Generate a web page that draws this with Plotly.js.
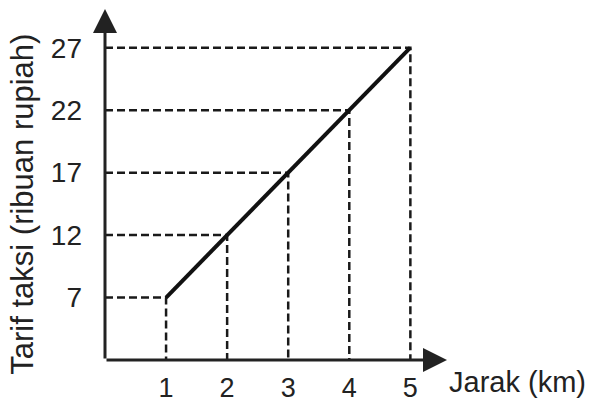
<!DOCTYPE html>
<html>
<head>
<meta charset="utf-8">
<script src="https://cdn.plot.ly/plotly-3.0.1.min.js"></script>
<style>
  html, body { margin: 0; padding: 0; background: #fff; }
  #myViz { width: 595px; height: 404px; }
</style>
</head>
<body>
<div id="myViz"></div>
<script>
// distance (km) vs taxi fare (thousand rupiah)
var jarak = [1, 2, 3, 4, 5];
var tarif = [7, 12, 17, 22, 27];
var xTicks = [1, 2, 3, 4, 5];
var yTicks = [7, 12, 17, 22, 27];

var yMin = 2;
var xEnd = 5.6;
var yEnd = 30.1;

// dashed guides: from y axis to the point, then down to the x axis
var gx = [], gy = [];
for (var i = 0; i < jarak.length; i++) {
    gx.push(0, jarak[i], jarak[i], null);
    gy.push(tarif[i], tarif[i], yMin, null);
}

var guides = {
    x: gx,
    y: gy,
    type: 'scatter',
    mode: 'lines',
    hoverinfo: 'skip',
    line: { color: '#1a1a1a', width: 2.5, dash: '8px,4px' }
};

var fare = {
    x: jarak,
    y: tarif,
    type: 'scatter',
    mode: 'lines',
    line: { color: '#111', width: 4 }
};

var data = [guides, fare];

var font = 'Liberation Sans, Arial, sans-serif';

var layout = {
    width: 595,
    height: 404,
    margin: { l: 105, r: 148, t: 9, b: 44 },
    paper_bgcolor: '#fff',
    plot_bgcolor: '#fff',
    showlegend: false,
    font: { family: font, color: '#222', size: 28 },
    xaxis: {
        range: [0, xEnd],
        tickvals: xTicks,
        ticktext: xTicks.map(String),
        showgrid: false,
        zeroline: false,
        showline: false,
        ticks: '',
        ticklabelstandoff: 9,
        tickfont: { size: 27 }
    },
    yaxis: {
        range: [yMin, yEnd],
        tickvals: yTicks,
        ticktext: yTicks.map(String),
        showgrid: false,
        zeroline: false,
        showline: false,
        ticks: '',
        ticklabelstandoff: 22,
        tickfont: { size: 28 }
    },
    annotations: [
        // x axis with arrow
        {
            x: xEnd, y: yMin, ax: 0, ay: yMin,
            xref: 'x', yref: 'y', axref: 'x', ayref: 'y',
            text: '', showarrow: true,
            arrowhead: 2, arrowsize: 1.6, arrowwidth: 3, arrowcolor: '#222'
        },
        // y axis with arrow
        {
            x: 0, y: yEnd, ax: 0, ay: yMin,
            xref: 'x', yref: 'y', axref: 'x', ayref: 'y',
            text: '', showarrow: true,
            arrowhead: 2, arrowsize: 1.6, arrowwidth: 3, arrowcolor: '#222'
        },
        {
            x: xEnd, y: yMin, xref: 'x', yref: 'y',
            xanchor: 'left', yanchor: 'middle', yshift: -22, xshift: 0,
            text: 'Jarak (km)', showarrow: false,
            font: { size: 29 }
        },
        {
            x: -0.24, y: 0.445, xref: 'paper', yref: 'paper',
            xanchor: 'center', yanchor: 'middle', textangle: -90,
            text: 'Tarif taksi (ribuan rupiah)', showarrow: false,
            font: { size: 31 }
        }
    ]
};

Plotly.newPlot('myViz', data, layout, { staticPlot: true });
</script>
</body>
</html>
